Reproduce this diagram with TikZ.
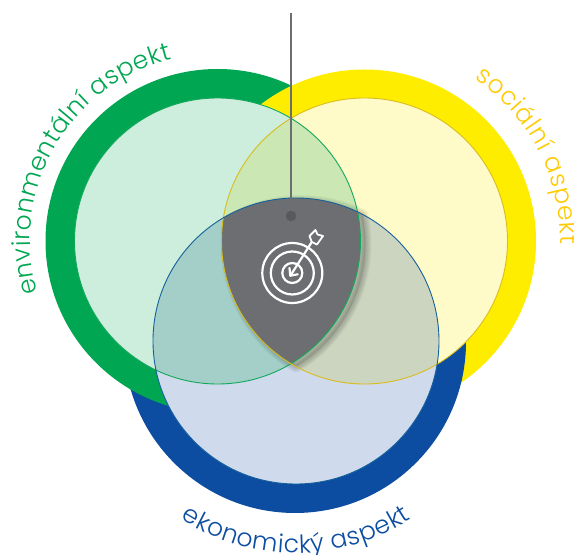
\documentclass[tikz,border=0pt]{standalone}
\usepackage{fontspec}
\setmainfont{Poppins}
\newfontfamily\labelfont{Poppins Light}
\usetikzlibrary{decorations.text}
\definecolor{cgreen}{HTML}{00A651}
\definecolor{cyellow}{HTML}{FFED00}
\definecolor{cblue}{HTML}{0C4DA2}
\definecolor{pgreen}{HTML}{CDEDDD}
\definecolor{pyellow}{HTML}{FFFBC8}
\definecolor{pblue}{HTML}{CFDBEC}
\definecolor{ogy}{HTML}{CBE8B4}
\definecolor{ogb}{HTML}{A4CFC9}
\definecolor{oyb}{HTML}{CCD5BF}
\definecolor{shield}{HTML}{6D6E71}
\definecolor{lead}{HTML}{58595B}
\definecolor{tyellow}{HTML}{FFCB05}
\definecolor{lgreen}{HTML}{12A85A}
\definecolor{lyellow}{HTML}{D9BC1E}
\definecolor{lblue}{HTML}{14609A}
\tikzset{
  x=1pt,y=1pt,
  ringline/.style={line width=0.9pt},
  curvelabel/.style={decorate,decoration={text along path,text align={fit to path},text={#1}}},
  iconline/.style={draw=white,line width=2.2pt,line cap=round,line join=round},
}
\def\Gc{(217.5,314)}
\def\Yc{(364.5,314)}
\def\Bc{(296,214)}
\def\Bo{(295,213)}
\def\shieldpath{(223.4,337.2) arc[start angle=120.5,end angle=64.5,radius=143]
  arc[start angle=11.7,end angle=-59.1,radius=143]
  arc[start angle=239.1,end angle=170.7,radius=143] -- cycle}
\begin{document}
\begin{tikzpicture}
\useasboundingbox (0,0) rectangle (574,555);
% outer discs: cyclic overlap
\fill[cgreen] \Gc circle[radius=172];
\fill[cyellow] \Yc circle[radius=171.5];
\fill[cblue] \Bo circle[radius=171];
\begin{scope}\clip \Bo circle[radius=171.6];\fill[cgreen] \Gc circle[radius=172];\end{scope}
% inner discs
\fill[pblue] \Bc circle[radius=143];
\fill[pyellow] \Yc circle[radius=143];
\fill[pgreen] \Gc circle[radius=143];
% overlaps
\begin{scope}\clip \Gc circle[radius=143];\fill[ogy] \Yc circle[radius=143];\end{scope}
\begin{scope}\clip \Gc circle[radius=143];\fill[ogb] \Bc circle[radius=143];\end{scope}
\begin{scope}\clip \Yc circle[radius=143];\fill[oyb] \Bc circle[radius=143];\end{scope}
% soft shadow
\begin{scope}[shift={(5,-3)}]
\foreach \w in {12,10,8,6,4,2}{
  \draw[black,opacity=0.035,line width=\w pt,line join=round] \shieldpath;
}
\fill[black,opacity=0.1] \shieldpath;
\end{scope}
\fill[shield] \shieldpath;
% outlines
\draw[lgreen,ringline] \Gc circle[radius=143];
\draw[lyellow,ringline] \Yc circle[radius=143];
\draw[lblue,ringline] \Bc circle[radius=143];
% leader
\node[circle,fill=lead,inner sep=0pt,minimum size=10.5pt] (dot) at (291,339) {};
\coordinate (leadtop) at (291,542);
\draw[shield,line width=1.3pt] (leadtop) -- (dot);
% target icon
\draw[iconline] (292.3,282) circle[radius=30];
\draw[iconline] (292.3,282) circle[radius=21.5];
\draw[iconline] (292.3,282) circle[radius=10];
\draw[iconline] (290.5,279.5) -- (311.8,313);
\draw[iconline] (289.5,287) -- (290.3,279.3) -- (297.7,280.7);
\draw[iconline,line width=1.8pt] (311.8,313) -- (309.5,319) -- (315.5,325) -- (317.5,320.5) -- (323,319) -- (317,310.5) -- cycle;
% curved labels
\path[curvelabel={|\labelfont\fontsize{25}{27}\selectfont\color{cgreen}|environmentální aspekt}]
  \Gc ++(196:187.5) arc[start angle=196,end angle=104,radius=187.5];
\path[curvelabel={|\labelfont\fontsize{25}{27}\selectfont\color{tyellow}|sociální aspekt}]
  \Yc ++(56:196) arc[start angle=56,end angle=-1,radius=196];
\path[curvelabel={|\labelfont\fontsize{25}{27}\selectfont\color{cblue}|ekonomický aspekt}]
  \Bc ++(237:212) arc[start angle=237,end angle=303,radius=212];
\end{tikzpicture}
\end{document}
